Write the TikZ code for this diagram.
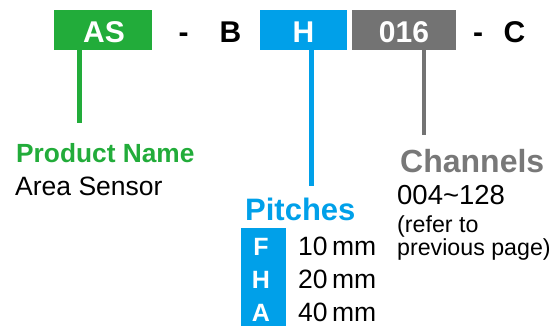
\documentclass[tikz,border=0pt]{standalone}
\usepackage{fontspec}
\setmainfont{Liberation Sans}
\definecolor{cgreen}{RGB}{34,172,58}
\definecolor{cblue}{RGB}{0,160,233}
\definecolor{cgray}{RGB}{115,115,115}
\definecolor{cgrayt}{RGB}{120,120,120}
\begin{document}
\begin{tikzpicture}[x=1pt,y=-1pt,
  codetxt/.style={font=\fontsize{30}{30}\selectfont\bfseries,inner sep=0pt,anchor=base},
  lead/.style={line width=4.5pt},
  body/.style={inner sep=0pt,anchor=base west},
  pitchletter/.style={font=\fontsize{25}{25}\selectfont\bfseries,text=white,inner sep=0pt,anchor=base},
  mmtxt/.style={body,font=\fontsize{26.5}{26.5}\selectfont}
]
\useasboundingbox (0,0) rectangle (556,326);
% boxes
\fill[cgreen] (54,10) rectangle (152,50);
\fill[cblue] (260,10) rectangle (347,50);
\fill[cgray] (352,10) rectangle (456,50);
\coordinate (gtop) at (79.5,50);
\coordinate (btop) at (311.5,50);
\coordinate (ytop) at (424,50);
% code text
\node[codetxt,text=white] (as) at (104,43) {AS};
\node[codetxt] (d1) at (183.5,43) {-};
\node[codetxt] (b) at (230.5,43) {B};
\node[codetxt,text=white] (h) at (303.5,43) {H};
\node[codetxt,text=white] (ch) at (404,43) {016};
\node[codetxt] (d2) at (478,43) {-};
\node[codetxt] (c) at (514.5,43) {C};
% leads
\coordinate (gend) at (79.5,123);
\coordinate (bend) at (311.5,186);
\coordinate (yend) at (424,135);
\draw[lead,cgreen] (gtop) -- (gend);
\draw[lead,cblue] (btop) -- (bend);
\draw[lead,cgray] (ytop) -- (yend);
% product name
\node[body,font=\fontsize{26.3}{26.3}\selectfont\bfseries,text=cgreen] (pn) at (16,162) {Product Name};
\node[body,font=\fontsize{26.5}{26.5}\selectfont] (as2) at (15,195) {Area Sensor};
% pitches
\node[body,font=\fontsize{31}{31}\selectfont\bfseries,text=cblue] (pt) at (245,220) {Pitches};
\fill[cblue] (241,228) rectangle (286,326);
\node[pitchletter] (pf) at (261,255) {F};
\node[pitchletter] (ph) at (261,288.5) {H};
\node[pitchletter] (pa) at (261,321.5) {A};
\node[mmtxt] (mf) at (298,255) {10\,mm};
\node[mmtxt] (mh) at (298,288.5) {20\,mm};
\node[mmtxt] (ma) at (298,321.5) {40\,mm};
% channels
\node[body,font=\fontsize{32}{32}\selectfont\bfseries,text=cgrayt] (chn) at (400,172) {Channels};
\node[body,font=\fontsize{27.5}{27.5}\selectfont] (rng) at (397,204) {004\textasciitilde128};
\node[body,font=\fontsize{23.2}{23.2}\selectfont] (r1) at (397,232) {(refer to};
\node[body,font=\fontsize{23.2}{23.2}\selectfont] (r2) at (397,255) {previous page)};
\end{tikzpicture}
\end{document}
